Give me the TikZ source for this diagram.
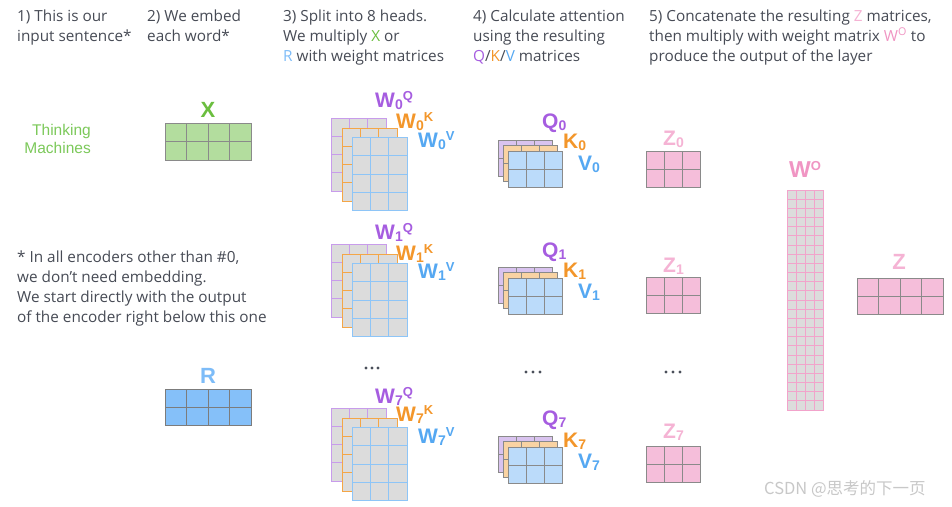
\documentclass[tikz,border=0pt]{standalone}
\usepackage{fontspec}
\setmainfont{Open Sans}
\newfontfamily\lblfont{Liberation Sans}
\newfontfamily\cjkfont{Noto Sans CJK SC}
\definecolor{hdr}{HTML}{474B55}
\definecolor{tgreen}{HTML}{7CC95A}
\definecolor{xgreen}{HTML}{6BBE3F}
\definecolor{xfill}{HTML}{B3DD9E}
\definecolor{rfill}{HTML}{85C0F9}
\definecolor{rlab}{HTML}{7DBCF8}
\definecolor{qpurple}{HTML}{A65DE0}
\definecolor{korange}{HTML}{F3962A}
\definecolor{vblue}{HTML}{55A8F2}
\definecolor{wpurple}{HTML}{C89CEB}
\definecolor{worange}{HTML}{F4A647}
\definecolor{wblue}{HTML}{8EC5F7}
\definecolor{wfill}{HTML}{DCDCDC}
\definecolor{qfill}{HTML}{D9C3EF}
\definecolor{kfill}{HTML}{F9D3A3}
\definecolor{vfill}{HTML}{BBDBFA}
\definecolor{gline}{HTML}{8A8A8A}
\definecolor{zfill}{HTML}{F5BEDA}
\definecolor{zlab}{HTML}{F5B3D4}
\definecolor{wopink}{HTML}{F2A3CB}
\definecolor{wolab}{HTML}{F095C3}
\definecolor{dotc}{HTML}{4A4F5A}
\definecolor{wm}{HTML}{C8C8C8}
\newcommand\lsub[1]{\raisebox{-0.12em}{\fontsize{14}{14}\selectfont #1}}
\newcommand\lsup[1]{\raisebox{0.3em}{\fontsize{13}{13}\selectfont #1}}
% name, x, y, w, h, cols, rows, fill, line colour
\newcommand\gridmat[9]{%
  \node[mbox, fill=#8, draw=#9, minimum width=#4pt, minimum height=#5pt] (#1) at (#2,#3) {};
  \foreach \k in {1,...,#6}{\draw[draw=#9, gridline] (#2+\k*#4/#6,#3) -- ++(0,#5);}
  \foreach \k in {1,...,#7}{\draw[draw=#9, gridline] (#2,#3+\k*#5/#7) -- ++(#4,0);}
}
\newcommand\wstack[2]{% id, top y
  \gridmat{wq#1}{331}{#2}{55}{73}{3}{4}{wfill}{wpurple}
  \gridmat{wk#1}{342}{#2+10}{55}{73}{3}{4}{wfill}{worange}
  \gridmat{wv#1}{352}{#2+19.5}{55}{73}{3}{4}{wfill}{wblue}
}
\newcommand\qstack[2]{% id, top y
  \gridmat{q#1}{498}{#2}{54}{36}{3}{2}{qfill}{gline}
  \gridmat{k#1}{503}{#2+5.5}{54}{36}{3}{2}{kfill}{gline}
  \gridmat{v#1}{508}{#2+11}{54}{36}{3}{2}{vfill}{gline}
}
\begin{document}
\begin{tikzpicture}[x=1pt,y=-1pt,
  mbox/.style={anchor=north west, inner sep=0, outer sep=0, line width=1pt},
  gridline/.style={line width=1pt},
  hdr/.style={anchor=base west, inner sep=0, align=left, text=hdr, font=\fontsize{15.3}{20}\selectfont},
  lbl/.style={anchor=base west, inner sep=0, font=\lblfont\bfseries\fontsize{21}{21}\selectfont},
  dot/.style={circle, fill=dotc, inner sep=0, minimum size=3.2pt}]
\useasboundingbox (0,0) rectangle (952,506);
\fill[white] (0,0) rectangle (952,506);

% headers (anchor = baseline of last line)
\node[hdr] (h1) at (17,41) {1) This is our\\input sentence*};
\node[hdr] (h2) at (147,41) {2) We embed\\each word*};
\node[hdr] (h3) at (283,61) {3) Split into 8 heads.\\We multiply \textcolor{xgreen}{X} or\\\textcolor{rlab}{R} with weight matrices};
\node[hdr] (h4) at (473,61) {4) Calculate attention\\using the resulting\\\textcolor{qpurple}{Q}/\textcolor{korange}{K}/\textcolor{vblue}{V} matrices};
\node[hdr] (h5) at (649,61) {5) Concatenate the resulting \textcolor{zlab}{Z} matrices,\\then multiply with weight matrix \textcolor{wolab}{W\textsuperscript{O}} to\\produce the output of the layer};
\node[hdr] (note) at (17,322) {* In all encoders other than \#0,\\we don’t need embedding.\\We start directly with the output\\of the encoder right below this one};

% input sentence
\node[anchor=base east, inner sep=0, align=right, text=tgreen, font=\lblfont\fontsize{15.5}{18}\selectfont] (sent) at (91,153) {Thinking\\Machines};

% X and R
\node[lbl, anchor=base, text=xgreen, font=\lblfont\bfseries\fontsize{22}{22}\selectfont] (xl) at (208,117) {X};
\gridmat{xm}{165}{123}{86}{37}{4}{2}{xfill}{gline}
\node[lbl, anchor=base, text=rlab, font=\lblfont\bfseries\fontsize{22}{22}\selectfont] (rl) at (208,383) {R};
\gridmat{rm}{165}{389}{86}{36}{4}{2}{rfill}{gline!90!black}

% weight stacks
\wstack{0}{118}
\wstack{1}{244}
\wstack{7}{408}
\node[lbl, text=qpurple] (wq0l) at (375,107) {W\lsub{0}\lsup{Q}};
\node[lbl, text=korange] (wk0l) at (396,128) {W\lsub{0}\lsup{K}};
\node[lbl, text=vblue]   (wv0l) at (418,147) {W\lsub{0}\lsup{V}};
\node[lbl, text=qpurple] (wq1l) at (375,239) {W\lsub{1}\lsup{Q}};
\node[lbl, text=korange] (wk1l) at (396,260) {W\lsub{1}\lsup{K}};
\node[lbl, text=vblue]   (wv1l) at (418,278) {W\lsub{1}\lsup{V}};
\node[lbl, text=qpurple] (wq7l) at (375,403) {W\lsub{7}\lsup{Q}};
\node[lbl, text=korange] (wk7l) at (396,421) {W\lsub{7}\lsup{K}};
\node[lbl, text=vblue]   (wv7l) at (418,443) {W\lsub{7}\lsup{V}};

% Q K V stacks
\qstack{0}{140}
\qstack{1}{267}
\qstack{7}{436}
\node[lbl, text=qpurple] (q0l) at (542,128) {Q\lsub{0}};
\node[lbl, text=korange] (k0l) at (563,148) {K\lsub{0}};
\node[lbl, text=vblue]   (v0l) at (578,170) {V\lsub{0}};
\node[lbl, text=qpurple] (q1l) at (542,257) {Q\lsub{1}};
\node[lbl, text=korange] (k1l) at (563,277) {K\lsub{1}};
\node[lbl, text=vblue]   (v1l) at (578,298) {V\lsub{1}};
\node[lbl, text=qpurple] (q7l) at (542,425) {Q\lsub{7}};
\node[lbl, text=korange] (k7l) at (563,447) {K\lsub{7}};
\node[lbl, text=vblue]   (v7l) at (578,468) {V\lsub{7}};

% Z matrices
\gridmat{z0}{646}{151}{54}{36}{3}{2}{zfill}{gline}
\gridmat{z1}{646}{277}{54}{36}{3}{2}{zfill}{gline}
\gridmat{z7}{646}{446}{54}{36}{3}{2}{zfill}{gline}
\node[lbl, text=zlab] (z0l) at (663,145) {Z\lsub{0}};
\node[lbl, text=zlab] (z1l) at (663,272) {Z\lsub{1}};
\node[lbl, text=zlab] (z7l) at (663,438) {Z\lsub{7}};

% dots
\foreach \i/\x in {1/366,2/372,3/378}{\node[dot] (dw\i) at (\x,368) {};}
\foreach \i/\x in {1/526,2/533,3/540}{\node[dot] (dq\i) at (\x,372) {};}
\foreach \i/\x in {1/666,2/673,3/680}{\node[dot] (dz\i) at (\x,372) {};}

% W^O
\gridmat{wo}{787}{190}{36}{220}{4}{24}{wfill}{wopink}
\node[lbl, anchor=base, text=wolab, font=\lblfont\bfseries\fontsize{23}{23}\selectfont] (wol) at (805,177) {W\lsup{O}};

% output Z
\gridmat{zo}{857}{278}{86}{36}{4}{2}{zfill}{gline}
\node[lbl, anchor=base, text=zlab, font=\lblfont\bfseries\fontsize{22}{22}\selectfont] (zol) at (899,269) {Z};

% watermark
\node[anchor=base west, inner sep=0, text=wm, font=\cjkfont\fontsize{16.5}{18}\selectfont] (wmk) at (764,494) {CSDN @思考的下一页};
\end{tikzpicture}
\end{document}
